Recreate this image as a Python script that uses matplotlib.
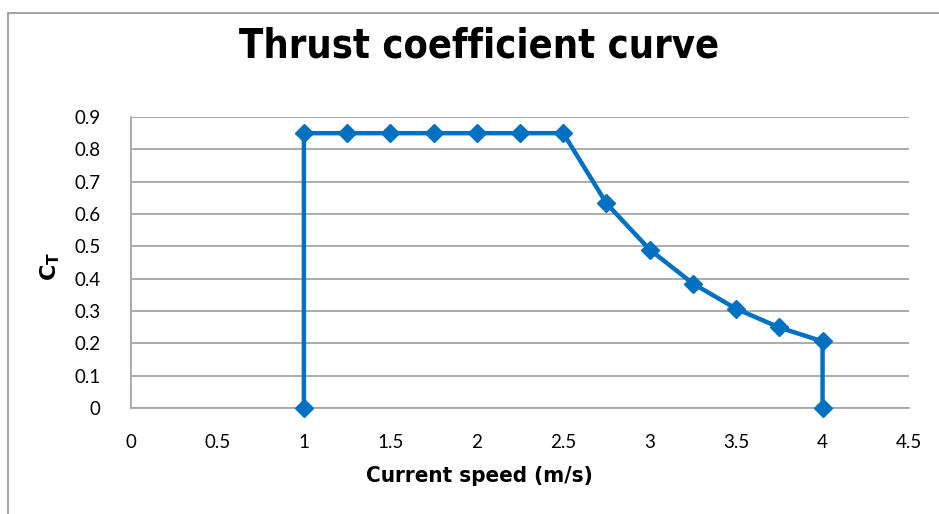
import matplotlib
matplotlib.use("Agg")
import matplotlib.pyplot as plt
from matplotlib.lines import Line2D

# data
speed = [1, 1, 1.25, 1.5, 1.75, 2, 2.25, 2.5, 2.75, 3, 3.25, 3.5, 3.75, 4, 4]
ct = [0, 0.85, 0.85, 0.85, 0.85, 0.85, 0.85, 0.85, 0.633, 0.49, 0.385, 0.307, 0.249, 0.206, 0]
xticks = [0, 0.5, 1, 1.5, 2, 2.5, 3, 3.5, 4, 4.5]
yticks = [0, 0.1, 0.2, 0.3, 0.4, 0.5, 0.6, 0.7, 0.8, 0.9]

blue = "#0070C0"
grey = "#A6A6A6"

fig = plt.figure(figsize=(9.39, 5.14), dpi=100)
ax = fig.add_axes([131/939, 1-408/514, (909-131)/939, (408-117)/514])

# outer chart frame, only the left and top edges are in the crop
fig.lines.append(Line2D([7.5/939, 7.5/939], [0, 1-12.5/514], transform=fig.transFigure,
                        color=grey, linewidth=1.5))
fig.lines.append(Line2D([7.5/939, 1], [1-12.5/514, 1-12.5/514], transform=fig.transFigure,
                        color=grey, linewidth=1.5))

ax.plot(speed, ct, color=blue, linewidth=3.2, marker="D", markersize=9,
        markeredgecolor=blue, zorder=3, clip_on=False)

ax.set_xlim(0, 4.5)
ax.set_ylim(0, 0.9)
ax.set_xticks(xticks)
ax.set_yticks(yticks)
ax.set_xticklabels([f"{v:g}" for v in xticks], family="Lato", fontsize=13.5)
ax.set_yticklabels([f"{v:g}" for v in yticks], family="Lato", fontsize=13.5)
ax.tick_params(length=0, pad=22, axis="y")
ax.tick_params(length=0, pad=19, axis="x")

ax.grid(axis="y", color=grey, linewidth=1.3)
ax.set_axisbelow(True)
for s in ["top", "right"]:
    ax.spines[s].set_visible(False)
for s in ["left", "bottom"]:
    ax.spines[s].set_color(grey)
    ax.spines[s].set_linewidth(1.3)

fig.text(479/939, 1-47/514, "Thrust coefficient curve", ha="center", va="center",
         fontsize=28.5, fontweight="bold", fontstretch="condensed")
fig.text(479/939, 1-476/514, "Current speed (m/s)", ha="center", va="center",
         fontsize=16, fontweight="bold", fontstretch="condensed")
fig.text(50/939, 1-266/514, r"$\mathbf{C_T}$", ha="center", va="center",
         rotation=90, fontsize=16)

fig.savefig("out.png", dpi=100)
